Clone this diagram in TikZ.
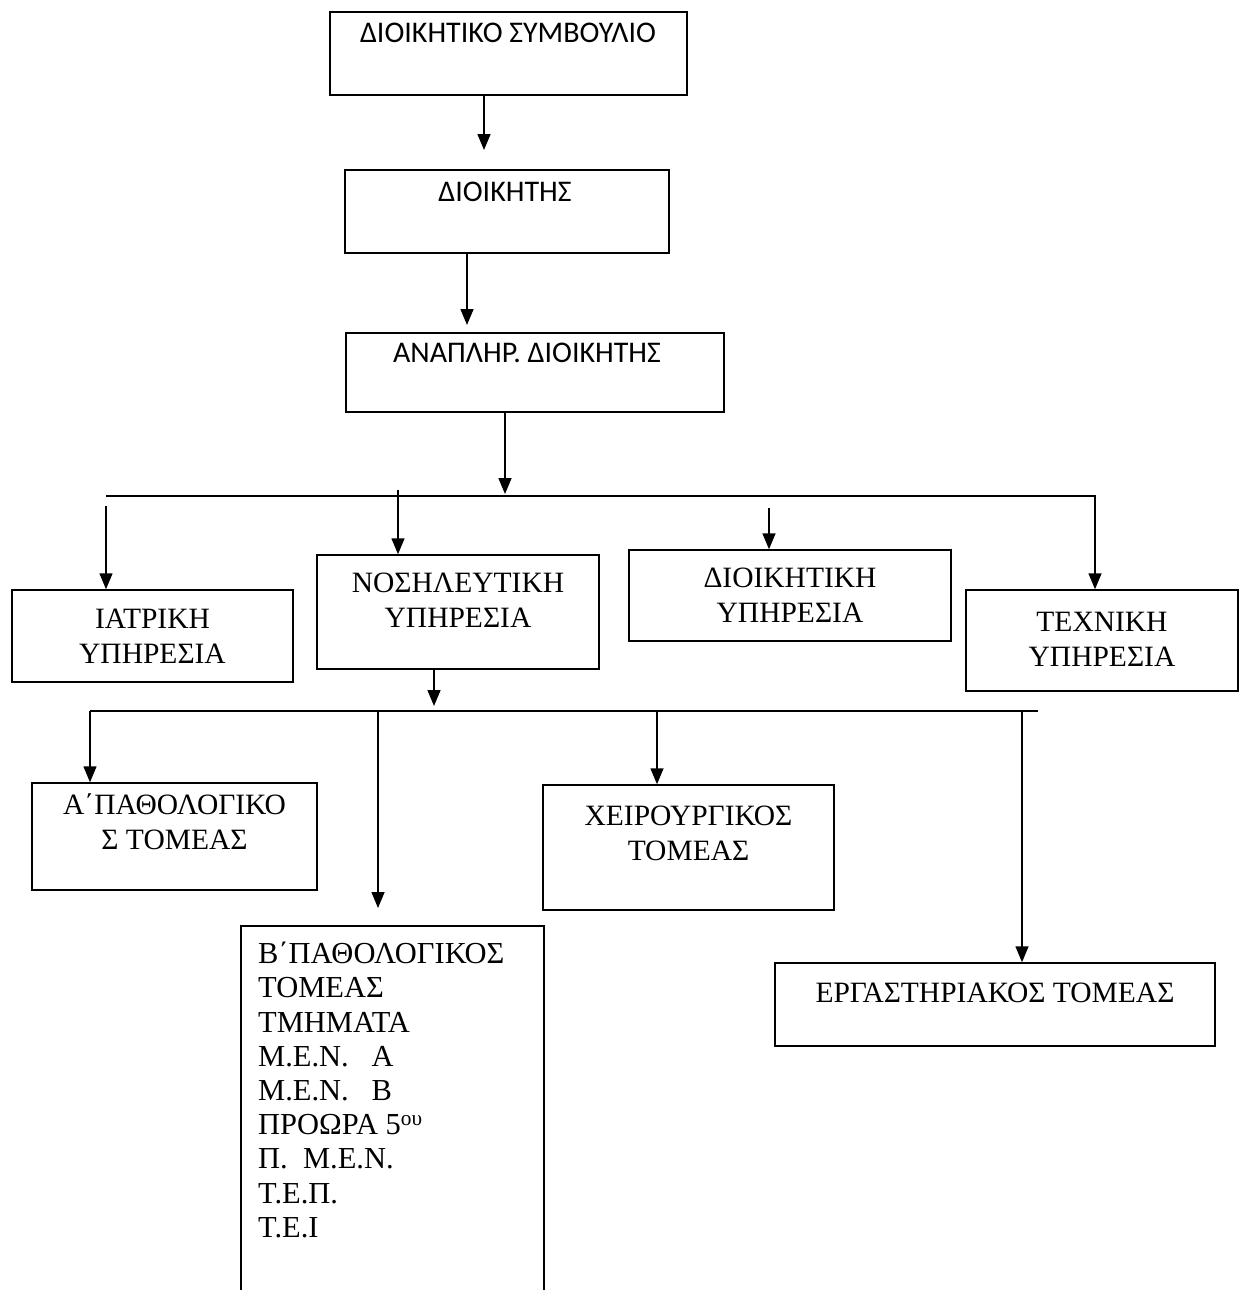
\documentclass[tikz,border=0pt]{standalone}
\usepackage{fontspec}
\setmainfont{Liberation Serif}
\newfontfamily\calib{Carlito}
\usetikzlibrary{arrows.meta}
\begin{document}
\begin{tikzpicture}[x=1pt,y=-1pt,
  box/.style={draw, line width=1.5pt, rectangle, inner sep=0pt},
  arr/.style={line width=1.5pt, -{Triangle[length=16pt,width=13pt]}},
  ln/.style={line width=1.5pt},
  sanstxt/.style={font=\calib\fontsize{30}{36}\selectfont, inner sep=0pt},
  sertxt/.style={font=\fontsize{29.5}{35}\selectfont, align=center, inner sep=0pt}]
\useasboundingbox (0,0) rectangle (1240,1290);
\clip (0,0) rectangle (1240,1290);
\fill[white] (0,0) rectangle (1240,1290);

% top chain
\node[box, minimum width=357, minimum height=83] (b1) at (508.5,53.5) {};
\node[sanstxt, anchor=base] (t1) at (508,43) {ΔΙΟΙΚΗΤΙΚΟ ΣΥΜΒΟΥΛΙΟ};
\node[box, minimum width=324, minimum height=83] (b2) at (507,211.5) {};
\node[sanstxt, anchor=base] (t2) at (505,201) {ΔΙΟΙΚΗΤΗΣ};
\node[box, minimum width=378, minimum height=79] (b3) at (535,372.5) {};
\node[sanstxt, anchor=base] (t3) at (527,362) {ΑΝΑΠΛΗΡ. ΔΙΟΙΚΗΤΗΣ};

% services
\node[box, minimum width=281, minimum height=92] (iat) at (152.5,636) {};
\node[sertxt] (tiat) at (152.5,636) {ΙΑΤΡΙΚΗ\\ΥΠΗΡΕΣΙΑ};
\node[box, minimum width=282, minimum height=114] (nos) at (458,612) {};
\node[sertxt] (tnos) at (458,600) {ΝΟΣΗΛΕΥΤΙΚΗ\\ΥΠΗΡΕΣΙΑ};
\node[box, minimum width=322, minimum height=91] (dio) at (790,595.5) {};
\node[sertxt] (tdio) at (790,595) {ΔΙΟΙΚΗΤΙΚΗ\\ΥΠΗΡΕΣΙΑ};
\node[box, minimum width=272, minimum height=101] (tec) at (1102,640.5) {};
\node[sertxt] (ttec) at (1102,639) {ΤΕΧΝΙΚΗ\\ΥΠΗΡΕΣΙΑ};

% sectors
\node[box, minimum width=285, minimum height=107] (apa) at (174.5,836.5) {};
\node[sertxt] (tapa) at (174.5,822) {Α΄ΠΑΘΟΛΟΓΙΚΟ\\Σ ΤΟΜΕΑΣ};
\node[box, minimum width=291, minimum height=125] (xei) at (688.5,847.5) {};
\node[sertxt] (txei) at (688.5,833) {ΧΕΙΡΟΥΡΓΙΚΟΣ\\ΤΟΜΕΑΣ};
\node[box, minimum width=440, minimum height=83] (erg) at (995,1004.5) {};
\node[sertxt] (terg) at (995,993) {ΕΡΓΑΣΤΗΡΙΑΚΟΣ ΤΟΜΕΑΣ};
\node[box, minimum width=303, minimum height=500, anchor=north west] (bpa) at (240,925) {};
\node[font=\fontsize{30.5}{34.2}\selectfont, align=left, inner sep=0pt, anchor=north west] (tbpa) at (258,942)
  {Β΄ΠΑΘΟΛΟΓΙΚΟΣ\\ΤΟΜΕΑΣ\\ΤΜΗΜΑΤΑ\\Μ.Ε.Ν.\ \ \ Α\\Μ.Ε.Ν.\ \ \ Β\\ΠΡΟΩΡΑ 5\textsuperscript{ου}\\Π.\ \ Μ.Ε.Ν.\\Τ.Ε.Π.\\Τ.Ε.Ι};

% arrows of the top chain
\coordinate (a1) at (484,150);
\draw[arr] (b1.south -| a1) -- (a1);
\coordinate (a2) at (467,325);
\draw[arr] (b2.south -| a2) -- (a2);
\coordinate (a3) at (505,494);
\draw[arr] (b3.south -| a3) -- (a3);

% first bus
\coordinate (bus1L) at (106,496);
\coordinate (bus1R) at (1095,496);
\draw[arr] (bus1L) -- (bus1R) -- (tec.north -| bus1R);
\coordinate (s1) at (106,506);
\draw[arr] (s1) -- (iat.north -| s1);
\coordinate (s2) at (398,490);
\draw[arr] (s2) -- (nos.north -| s2);
\coordinate (s3) at (769,508);
\draw[arr] (s3) -- (dio.north -| s3);

% second bus
\coordinate (a4) at (434,706);
\draw[arr] (nos.south -| a4) -- (a4);
\coordinate (bus2L) at (90,711);
\coordinate (bus2R) at (1038,711);
\draw[ln] (bus2L) -- (bus2R);
\draw[arr] (bus2L) -- (apa.north -| bus2L);
\coordinate (s5) at (378,711);
\coordinate (a5) at (378,908);
\draw[arr] (s5) -- (a5);
\coordinate (s6) at (657,711);
\draw[arr] (s6) -- (xei.north -| s6);
\coordinate (s7) at (1022,711);
\draw[arr] (s7) -- (erg.north -| s7);
\end{tikzpicture}
\end{document}
